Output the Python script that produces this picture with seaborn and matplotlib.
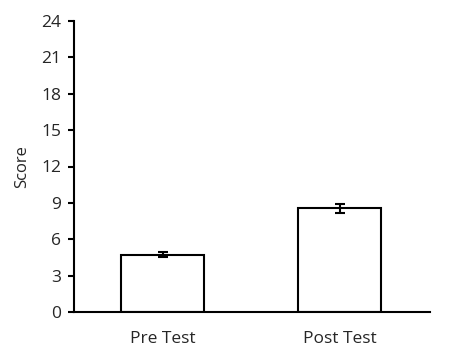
import matplotlib

matplotlib.use("Agg")

import matplotlib.pyplot as plt
import pandas as pd
import seaborn as sns

CATEGORIES = ["Pre Test", "Post Test"]
MEANS = [4.73, 8.57]
ERRORS = [0.2, 0.37]
Y_TICKS = [0, 3, 6, 9, 12, 15, 18, 21, 24]

sns.set_style("white")
plt.rcParams["font.family"] = ["Open Sans", "DejaVu Sans"]

df = pd.DataFrame({"test": CATEGORIES, "score": MEANS})

fig = plt.figure(figsize=(4.68, 3.6), dpi=100)
ax = fig.add_axes([0.158, 0.1333, 0.761, 0.8084])

sns.barplot(
    data=df,
    x="test",
    y="score",
    order=CATEGORIES,
    color="white",
    edgecolor="black",
    linewidth=1.5,
    width=0.47,
    errorbar=None,
    ax=ax,
)
ax.errorbar(
    range(len(CATEGORIES)),
    MEANS,
    yerr=ERRORS,
    fmt="none",
    ecolor="black",
    elinewidth=1.5,
    capsize=3.5,
    capthick=1.5,
)

ax.set_xlim(-0.5, 1.51)
ax.set_ylim(0, 24)
ax.set_yticks(Y_TICKS)
ax.set_xlabel("")
ax.set_ylabel("Score", fontsize=12, labelpad=8)
ax.tick_params(axis="y", which="both", left=True, length=4, width=1.5, labelsize=12.5, pad=5, color="black")
ax.tick_params(axis="x", length=0, labelsize=12.5, pad=14)
for side in ["top", "right"]:
    ax.spines[side].set_visible(False)
for side in ["left", "bottom"]:
    ax.spines[side].set_linewidth(1.5)
    ax.spines[side].set_color("black")

fig.savefig("out.png", dpi=100)
